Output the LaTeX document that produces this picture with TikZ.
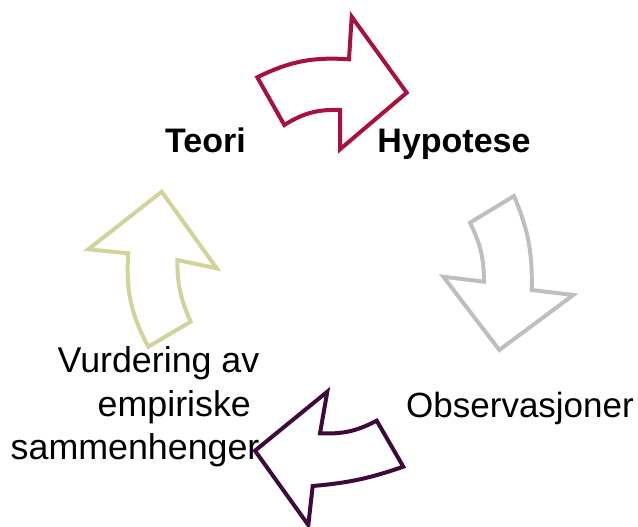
\documentclass[tikz,border=0pt]{standalone}
\usepackage{fontspec}
\setmainfont{Liberation Sans}
\usepackage{tikz}
\definecolor{teoriRed}{RGB}{168,16,62}
\definecolor{obsGray}{RGB}{190,190,190}
\definecolor{empPurple}{RGB}{62,10,60}
\definecolor{vurdKhaki}{RGB}{210,210,155}

\begin{document}
\begin{tikzpicture}[x=1pt, y=-1pt,
  phase/.style={font=\fontsize{35}{44}\selectfont, inner sep=0pt, anchor=base},
  phasebold/.style={phase, font=\fontsize{34}{40}\selectfont\bfseries},
  cyclearrow/.style={line width=4pt, line join=miter}]

  \useasboundingbox (0,0) rectangle (638,527);

  % labels
  \node[phasebold] (teori) at (205.5,153) {Teori};
  \node[phasebold] (hyp)   at (454,153)   {Hypotese};
  \node[phase]     (obs)   at (520,417.3) {Observasjoner};
  \node[phase, font=\fontsize{35.8}{43.5}\selectfont, align=left, anchor=north west] (vurd) at (10.5,346.5)
    {\hspace*{47pt}Vurdering av\\\hspace*{87pt}empiriske\\sammenhenger};

  % teori -> hypotese
  \draw[cyclearrow, teoriRed] (257.3,77.3) to[bend left=15] (349,59.3)
    -- (351.7,16.7) -- (406.7,92.7) -- (340,149.3) -- (340,110)
    to[bend right=17] (284.3,125) -- cycle;
  % hypotese -> observasjoner
  \draw[cyclearrow, obsGray] (470,222.7) -- (514,196) to[bend left=12] (531.7,290)
    -- (573.3,295) -- (499.3,350) -- (443.3,276.7) -- (484,281.7)
    to[bend right=13] (470,222.7) -- cycle;
  % observasjoner -> vurdering
  \draw[cyclearrow, empPurple] (376.7,420.7) -- (403.3,466.7) to[bend left=7] (312.7,486)
    -- (308.3,525) -- (255,450.7) -- (327.3,391.7) -- (320,433.3)
    to[bend right=15] (376.7,420.7) -- cycle;
  % vurdering -> teori
  \draw[cyclearrow, vurdKhaki] (148.3,346.7) -- (190.7,321.7) to[bend left=12] (177.3,260)
    -- (216.7,268.3) -- (161.7,191.7) -- (88.3,249.3) -- (128.3,253.3)
    to[bend right=16] (148.3,346.7) -- cycle;
\end{tikzpicture}
\end{document}
